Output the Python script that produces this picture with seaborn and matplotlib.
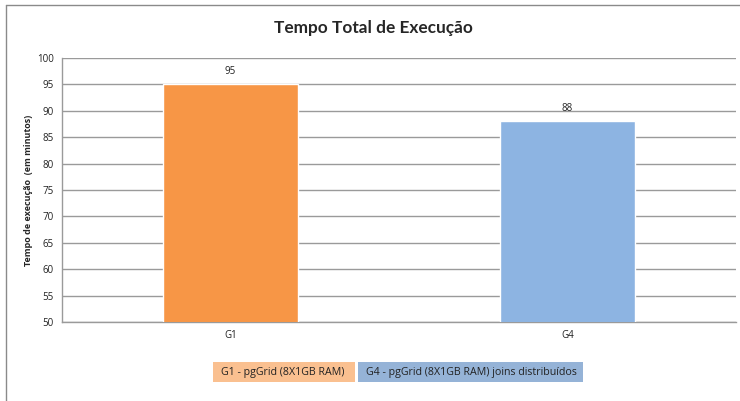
import pandas as pd
import matplotlib.pyplot as plt
import seaborn as sns
from matplotlib.patches import Rectangle
from matplotlib.lines import Line2D

# Dados do gráfico
grupos = ['G1', 'G4']
tempos = [95, 88]
legendas = ['G1 - pgGrid (8X1GB RAM)', 'G4 - pgGrid (8X1GB RAM) joins distribuídos']
cores = ['#F79646', '#8DB4E2']
cores_legenda = ['#FAC090', '#95B3D7']

sns.set_style("white")
plt.rcParams['font.family'] = ['Open Sans', 'DejaVu Sans']

df = pd.DataFrame({'grupo': grupos, 'tempo': tempos})

fig = plt.figure(figsize=(7.4, 4.01), dpi=100)
ax = fig.add_axes([62 / 740, 1 - 322 / 401, 674 / 740, 264 / 401])

sns.barplot(data=df, x='grupo', y='tempo', hue='grupo', palette=cores,
            width=0.4, saturation=1, legend=False, ax=ax, zorder=3)

ax.set_ylim(50, 100)
ax.set_yticks(range(50, 101, 5))
ax.set_xlim(-0.5, 1.5)
ax.grid(True, axis='y', color='#9a9a9a', linewidth=1, zorder=0)
for lado in ['top', 'right']:
    ax.spines[lado].set_visible(False)
for lado in ['left', 'bottom']:
    ax.spines[lado].set_color('#9a9a9a')
    ax.spines[lado].set_linewidth(1)
ax.tick_params(axis='both', length=0, labelsize=7, colors='#222222', pad=6)
ax.set_xlabel('')
ax.set_ylabel('Tempo de execução  (em minutos)', fontsize=6.5, fontweight='bold', labelpad=3)

for cont in ax.containers:
    ax.bar_label(cont, fontsize=7, padding=5, color='#222222')

fig.text(0.505, 0.93, 'Tempo Total de Execução', ha='center', va='center',
         fontsize=12.4, fontweight='bold', family=['Lato', 'DejaVu Sans'])

# Legenda em caixas coloridas
caixas = [(213, 355), (358, 583)]
for (x0, x1), texto, cor in zip(caixas, legendas, cores_legenda):
    fig.add_artist(Rectangle((x0 / 740, 1 - 382 / 401), (x1 - x0) / 740, 20 / 401,
                             transform=fig.transFigure, facecolor=cor, edgecolor='none'))
    fig.text((x0 + 8) / 740, 1 - 372 / 401, texto, ha='left', va='center',
             fontsize=7.7, color='#222222')

# Borda externa do gráfico
fig.add_artist(Line2D([6 / 740, 1], [1 - 5 / 401, 1 - 5 / 401], transform=fig.transFigure,
                      color='#8a8a8a', linewidth=1))
fig.add_artist(Line2D([6 / 740, 6 / 740], [0, 1 - 5 / 401], transform=fig.transFigure,
                      color='#8a8a8a', linewidth=1))

fig.savefig('out.png', dpi=100)
